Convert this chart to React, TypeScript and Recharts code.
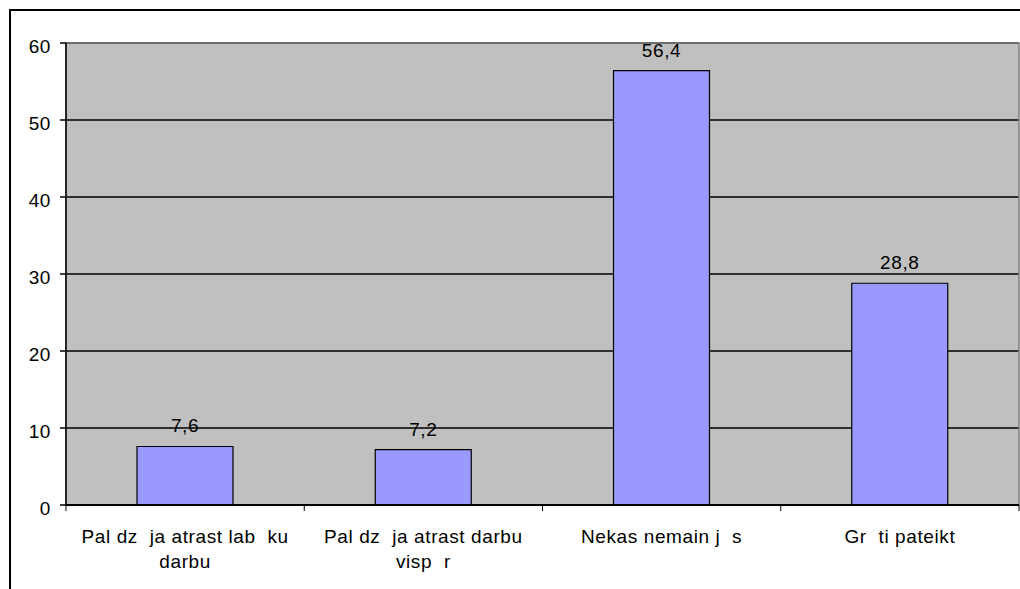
import { BarChart, Bar, XAxis, YAxis, CartesianGrid, LabelList, ReferenceArea } from 'recharts';

const categories = [
  'Pal dz  ja atrast lab  ku\ndarbu',
  'Pal dz  ja atrast darbu\nvisp  r',
  'Nekas nemain j  s',
  'Gr  ti pateikt',
];
const values = [7.6, 7.2, 56.4, 28.8];
const yTicks = [0, 10, 20, 30, 40, 50, 60];

const data = categories.map((name, i) => ({ name, value: values[i] }));

const FONT = '"Liberation Sans", Arial, sans-serif';
const FS = 19;
const LS = 0.6;

function CategoryTick(props: any) {
  const { x, y, payload, index, width, visibleTicksCount } = props;
  const band = width / visibleTicksCount;
  const lines = String(payload.value).split('\n');
  return (
    <g>
      <line x1={x - band / 2} x2={x - band / 2} y1={y - 6} y2={y} stroke="#000" />
      {index === visibleTicksCount - 1 && (
        <line x1={x + band / 2} x2={x + band / 2} y1={y - 6} y2={y} stroke="#000" />
      )}
      <text
        x={x}
        y={y + 32}
        textAnchor="middle"
        fontSize={FS}
        fontFamily={FONT}
        letterSpacing={LS}
        fill="#000"
        style={{ whiteSpace: 'pre' }}
      >
        {lines.map((l, i) => (
          <tspan key={i} x={x} dy={i === 0 ? 0 : 25}>
            {l}
          </tspan>
        ))}
      </text>
    </g>
  );
}

export default function App() {
  return (
    <div
      style={{
        position: 'absolute',
        left: 0,
        top: 0,
        width: 1020,
        height: 589,
        overflow: 'hidden',
        background: '#fff',
      }}
    >
      <div
        style={{
          position: 'absolute',
          left: 9,
          top: 9,
          width: 1100,
          height: 700,
          borderTop: '2px solid #000',
          borderLeft: '2px solid #000',
        }}
      />
      <div style={{ position: 'absolute', left: 0, top: 0 }}>
        <BarChart
          width={1020}
          height={589}
          data={data}
          margin={{ top: 43, right: 1, left: 0, bottom: 24 }}
        >
          <CartesianGrid vertical={false} stroke="#000" strokeWidth={1.5} fill="#C0C0C0" fillOpacity={1} />
          <ReferenceArea y1={0} y2={60} fill="none" stroke="#808080" strokeWidth={1.5} />
          <XAxis
            dataKey="name"
            height={60}
            axisLine={{ stroke: '#000', strokeWidth: 2 }}
            tickLine={false}
            tickSize={6}
            tickMargin={0}
            interval={0}
            tick={<CategoryTick />}
          />
          <YAxis
            width={66}
            domain={[0, 60]}
            ticks={yTicks}
            interval={0}
            axisLine={{ stroke: '#000', strokeWidth: 1.5 }}
            tickLine={{ stroke: '#000', strokeWidth: 1.5 }}
            tickSize={6}
            tickMargin={9}
            tick={{ fill: '#000', fontSize: FS, fontFamily: FONT, letterSpacing: LS, dy: 3 }}
          />
          <Bar dataKey="value" fill="#9999FF" stroke="#000" strokeWidth={1.2} barSize={96} isAnimationActive={false}>
            <LabelList
              dataKey="value"
              position="top"
              offset={14}
              formatter={(v: any) => String(v).replace('.', ',')}
              style={{ fill: '#000', fontSize: FS, fontFamily: FONT, letterSpacing: LS }}
            />
          </Bar>
        </BarChart>
      </div>
    </div>
  );
}
